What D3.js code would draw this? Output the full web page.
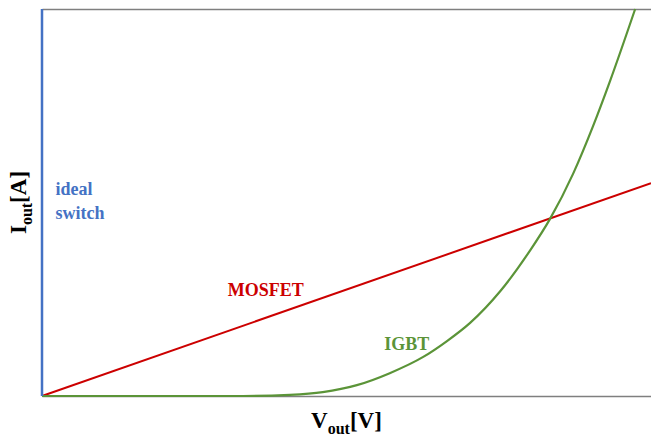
<!DOCTYPE html>
<html>
<head>
<meta charset="utf-8">
<script src="https://cdn.jsdelivr.net/npm/d3@7"></script>
<style>
  body { margin: 0; background: #fff; }
  text { font-family: "Liberation Serif", "Times New Roman", serif; font-weight: bold; }
</style>
</head>
<body>
<div id="graph"></div>
<script>
// output characteristics, arbitrary units 0..100 on both axes
var idealSwitch = [[0, 0], [0, 100]];
var mosfetLine = [[0, 0], [100, 55]];
var igbtVout = [0, 33, 40.7, 46.1, 51.7, 57.1, 62.6, 66.5, 70.3, 75.2, 80.1, 83.4, 87.2, 90.5, 93.3, 97.4];
var igbtIout = [0, 0, 0.3, 1.0, 2.8, 5.9, 10.1, 14.2, 18.9, 27.0, 37.5, 45.7, 57.4, 69.8, 81.5, 100];

var seriesLabels = [
  {name: "ideal", lines: ["ideal", "switch"], color: "#4472C4"},
  {name: "mosfet", lines: ["MOSFET"], color: "#CC0000"},
  {name: "igbt", lines: ["IGBT"], color: "#5B9438"}
];

var graphWidth = 651;
var graphHeight = 438;
var margin = {top: 9, right: 0, bottom: 42, left: 42},
    width = graphWidth - margin.left - margin.right,
    height = graphHeight - margin.top - margin.bottom;

var xScale = d3.scaleLinear().domain([0, 100]).range([0, width]);
var yScale = d3.scaleLinear().domain([0, 100]).range([height, 0]);

var svg = d3.select("#graph")
    .append("svg")
    .attr("width", graphWidth)
    .attr("height", graphHeight);

var plotArea = svg.append("g")
    .attr("transform", "translate(" + margin.left + "," + margin.top + ")");

// frame lines top and bottom, no ticks
plotArea.append("g")
    .attr("transform", "translate(0," + height + ")")
    .call(d3.axisBottom(xScale).ticks(0).tickSizeOuter(0))
    .select(".domain").attr("stroke", "#7f7f7f").attr("stroke-width", 1.5);

plotArea.append("g")
    .call(d3.axisTop(xScale).ticks(0).tickSizeOuter(0))
    .select(".domain").attr("stroke", "#7f7f7f").attr("stroke-width", 1.5);

var line = d3.line()
    .x(function(d) { return xScale(d[0]); })
    .y(function(d) { return yScale(d[1]); });

var igbtData = igbtVout.map(function(v, i) { return [v, igbtIout[i]]; });

plotArea.append("path")
    .datum(mosfetLine)
    .attr("fill", "none")
    .attr("stroke", "#CC0000")
    .attr("stroke-width", 2)
    .attr("d", line);

plotArea.append("path")
    .datum(igbtData)
    .attr("fill", "none")
    .attr("stroke", "#5B9438")
    .attr("stroke-width", 2.2)
    .attr("d", line.curve(d3.curveMonotoneX));

plotArea.append("path")
    .datum(idealSwitch)
    .attr("fill", "none")
    .attr("stroke", "#4472C4")
    .attr("stroke-width", 2.5)
    .attr("d", line.curve(d3.curveLinear));

// series labels, placed in data units
var labelPos = {ideal: [2.2, 52], mosfet: [30.5, 25.8], igbt: [56.2, 11.8]};

seriesLabels.forEach(function(s) {
  var t = plotArea.append("text")
      .attr("x", xScale(labelPos[s.name][0]))
      .attr("y", yScale(labelPos[s.name][1]))
      .attr("fill", s.color)
      .style("font-size", "18px");
  s.lines.forEach(function(l, i) {
    t.append("tspan")
      .attr("x", xScale(labelPos[s.name][0]))
      .attr("dy", i == 0 ? 0 : 24)
      .text(l);
  });
});

// axis titles
var xTitle = svg.append("text")
    .attr("x", margin.left + width / 2)
    .attr("y", 428)
    .attr("text-anchor", "middle")
    .style("font-size", "23px");
xTitle.append("tspan").text("V");
xTitle.append("tspan").attr("dy", 6).style("font-size", "16px").text("out");
xTitle.append("tspan").attr("dy", -6).text("[V]");

var yTitle = svg.append("text")
    .attr("transform", "translate(26," + (margin.top + height / 2) + ") rotate(-90)")
    .attr("text-anchor", "middle")
    .style("font-size", "23px");
yTitle.append("tspan").text("I");
yTitle.append("tspan").attr("dy", 6).style("font-size", "16px").text("out");
yTitle.append("tspan").attr("dy", -6).text("[A]");
</script>
</body>
</html>
